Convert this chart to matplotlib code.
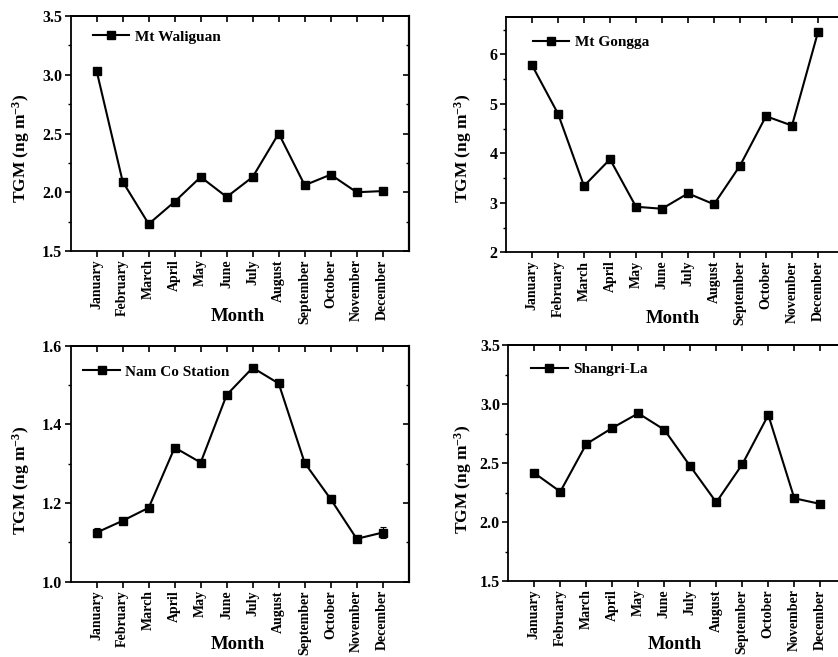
import matplotlib
matplotlib.use("Agg")
import matplotlib.pyplot as plt
from matplotlib.ticker import MultipleLocator, FormatStrFormatter
from matplotlib.lines import Line2D

plt.rcParams['font.family'] = ['Liberation Serif', 'DejaVu Serif']
plt.rcParams['font.weight'] = 'bold'
plt.rcParams['mathtext.fontset'] = 'custom'
plt.rcParams['mathtext.rm'] = 'Liberation Serif:bold'
plt.rcParams['mathtext.it'] = 'Liberation Serif:bold'
plt.rcParams['mathtext.bf'] = 'Liberation Serif:bold'

months = ["January", "February", "March", "April", "May", "June", "July",
          "August", "September", "October", "November", "December"]

waliguan = [3.03, 2.09, 1.73, 1.92, 2.13, 1.96, 2.13, 2.50, 2.06, 2.15, 2.00, 2.01]
gongga = [5.78, 4.80, 3.34, 3.88, 2.92, 2.88, 3.19, 2.97, 3.75, 4.75, 4.56, 6.45]
namco = [1.125, 1.155, 1.188, 1.341, 1.303, 1.475, 1.544, 1.504, 1.302, 1.210, 1.109, 1.125]
namco_err = [0.012, 0.005, 0.005, 0.005, 0.004, 0.004, 0.004, 0.008, 0.005, 0.010, 0.004, 0.015]
shangrila = [2.415, 2.257, 2.661, 2.797, 2.921, 2.782, 2.472, 2.167, 2.489, 2.907, 2.201, 2.153]

W, H = 838, 657
fig = plt.figure(figsize=(W / 100, H / 100), dpi=100)

def px_axes(left, top, right, bottom):
    return fig.add_axes([left / W, (H - bottom) / H, (right - left) / W, (bottom - top) / H])

panels = [
    dict(rect=(70.7, 16.0, 408.7, 251.0), data=waliguan, err=None, label="Mt Waliguan",
         ylim=(1.5, 3.5), major=0.5, minor=0.25, fmt="%.1f", leg=(0.065, 0.912),
         ylab=(-0.148, 0.438), xlab=(0.493, -0.28)),
    dict(rect=(506.0, 16.7, 844.0, 252.3), data=gongga, err=None, label="Mt Gongga",
         ylim=(2.0, 6.76), major=1.0, minor=0.5, fmt="%d", leg=(0.079, 0.891),
         ylab=(-0.126, 0.44), xlab=(0.494, -0.28)),
    dict(rect=(70.7, 345.7, 408.7, 581.7), data=namco, err=namco_err, label="Nam Co Station",
         ylim=(1.0, 1.6), major=0.2, minor=0.1, fmt="%.1f", leg=(0.037, 0.890),
         ylab=(-0.148, 0.428), xlab=(0.493, -0.268)),
    dict(rect=(508.3, 345.0, 846.3, 581.0), data=shangrila, err=None, label="Shangri-La",
         ylim=(1.5, 3.5), major=0.5, minor=0.25, fmt="%.1f", leg=(0.067, 0.897),
         ylab=(-0.133, 0.432), xlab=(0.493, -0.271)),
]

x = list(range(1, 13))

for p in panels:
    ax = px_axes(*p["rect"])
    if p["err"] is None:
        ax.plot(x, p["data"], color='black', lw=1.5, marker='s', ms=5.5)
    else:
        ax.errorbar(x, p["data"], yerr=p["err"], color='black', lw=1.5, marker='s', ms=5.5,
                    elinewidth=0.8, capsize=2.2, capthick=0.8)
    ax.set_xlim(0, 13)
    ax.set_ylim(*p["ylim"])
    ax.set_xticks(x)
    ax.set_xticklabels(months, rotation=90, fontsize=10, fontweight='bold')
    ax.yaxis.set_major_locator(MultipleLocator(p["major"]))
    ax.yaxis.set_minor_locator(MultipleLocator(p["minor"]))
    ax.yaxis.set_major_formatter(FormatStrFormatter(p["fmt"]))
    for lab in ax.get_yticklabels():
        lab.set_fontweight('bold')
    ax.tick_params(axis='both', which='major', direction='out', length=4, width=1.2, pad=2)
    ax.tick_params(axis='y', which='major', labelsize=11.5)
    ax.tick_params(axis='y', which='minor', direction='out', length=2.5, width=1.0)
    for s in ax.spines.values():
        s.set_linewidth(1.3)

    top = ax.secondary_xaxis('top')
    top.set_xticks(x)
    top.set_xticklabels([])
    top.tick_params(axis='x', direction='in', length=4, width=1.2)
    top.spines['top'].set_linewidth(1.3)

    right = ax.secondary_yaxis('right')
    right.yaxis.set_major_locator(MultipleLocator(p["major"]))
    right.yaxis.set_minor_locator(MultipleLocator(p["minor"]))
    right.set_yticklabels([])
    right.tick_params(axis='y', which='major', direction='in', length=4, width=1.2)
    right.tick_params(axis='y', which='minor', direction='in', length=2.5, width=1.0)
    right.spines['right'].set_linewidth(1.6)

    ax.set_ylabel(r"TGM (ng m$^{-3}$)", fontsize=12.5, fontweight='bold')
    ax.yaxis.set_label_coords(*p["ylab"])
    ax.yaxis.label.set_va('center')
    ax.set_xlabel("Month", fontsize=13.5, fontweight='bold')
    ax.xaxis.set_label_coords(*p["xlab"])
    ax.xaxis.label.set_va('center')

    handle = Line2D([], [], color='black', lw=1.5, marker='s', ms=5.5)
    ax.legend([handle], [p["label"]], loc='center left', bbox_to_anchor=p["leg"], frameon=False,
              borderpad=0, borderaxespad=0, handlelength=2.4, handletextpad=0.35,
              prop={'family': 'Liberation Serif', 'weight': 'bold', 'size': 11})

fig.savefig("out.png", dpi=100)
